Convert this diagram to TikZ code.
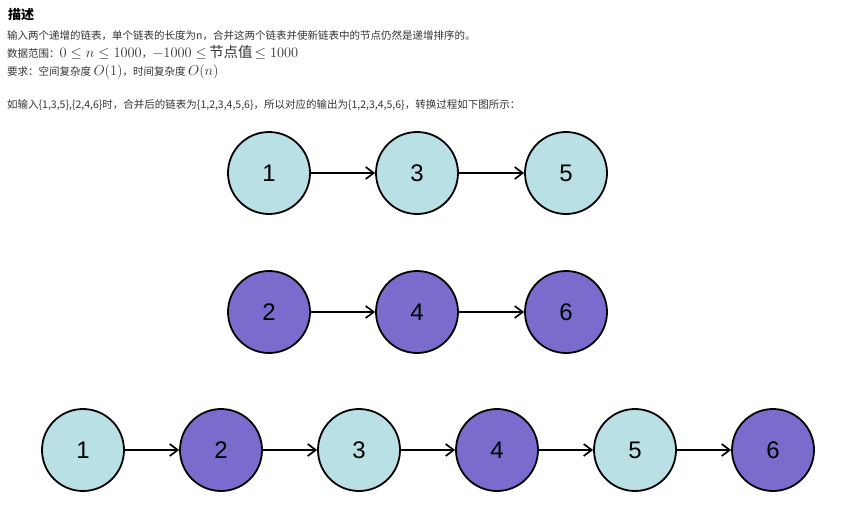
\documentclass[tikz,border=0pt]{standalone}
\usepackage[no-math]{fontspec}
\setmainfont{Liberation Sans}
\newfontfamily\cjk{Noto Sans CJK SC}
\usetikzlibrary{arrows.meta}
\definecolor{lightnode}{RGB}{185,224,228}
\definecolor{darknode}{RGB}{122,108,204}
\definecolor{bodytext}{RGB}{51,51,51}
\newcommand{\bigmath}[1]{{\fontsize{14.4}{16}\selectfont #1}}
\begin{document}
\begin{tikzpicture}[x=1pt, y=-1pt,
    lnode/.style={circle, draw=black, line width=1.8pt, fill=lightnode, minimum size=82pt, inner sep=0pt, font=\fontsize{24}{28}\selectfont},
    pnode/.style={lnode, fill=darknode},
    link/.style={line width=1.7pt, -{Straight Barb[length=8pt,width=12pt,line width=1.7pt]}},
    txt/.style={anchor=base west, inner sep=0pt, text=bodytext, font=\cjk\fontsize{10.5}{12}\selectfont}]
    \useasboundingbox (0,0) rectangle (861,517);
    % text above the lists
    \node[txt, text=black, font=\cjk\bfseries\fontsize{13}{15}\selectfont] (title) at (8,19) {描述};
    \node[txt] (line1) at (7,39) {输入两个递增的链表，单个链表的长度为n，合并这两个链表并使新链表中的节点仍然是递增排序的。};
    \node[txt] (line2) at (7,57) {数据范围：\bigmath{$0\leq n\leq 1000$}，\bigmath{$-1000\leq$\,节点值\,$\leq 1000$}};
    \node[txt] (line3) at (7,75) {要求：空间复杂度 \bigmath{$O(1)$}，时间复杂度 \bigmath{$O(n)$}};
    \node[txt] (line4) at (7,108) {如输入\{1,3,5\},\{2,4,6\}时，合并后的链表为\{1,2,3,4,5,6\}，所以对应的输出为\{1,2,3,4,5,6\}，转换过程如下图所示：};
    % first list
    \node[lnode] (n1) at (269,173) {1};
    \node[lnode] (n3) at (417,173) {3};
    \node[lnode] (n5) at (566,173) {5};
    \draw[link] (n1) -- (n3);
    \draw[link] (n3) -- (n5);
    % second list
    \node[pnode] (m2) at (269,312) {2};
    \node[pnode] (m4) at (417,312) {4};
    \node[pnode] (m6) at (566,312) {6};
    \draw[link] (m2) -- (m4);
    \draw[link] (m4) -- (m6);
    % merged list
    \foreach \i in {1,3,5} {
        \node[lnode] (r\i) at ({83+138*(\i-1)},450) {\i};
    }
    \foreach \i in {2,4,6} {
        \node[pnode] (r\i) at ({83+138*(\i-1)},450) {\i};
    }
    \foreach \i [evaluate=\i as \j using int(\i+1)] in {1,...,5} {
        \draw[link] (r\i) -- (r\j);
    }
\end{tikzpicture}
\end{document}
